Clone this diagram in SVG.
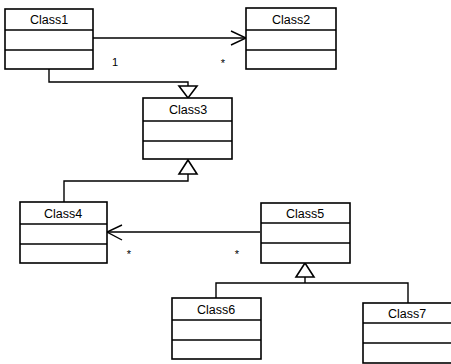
<svg xmlns="http://www.w3.org/2000/svg" width="451" height="364" viewBox="0 0 451 364">
<style>
.box{fill:#fff;stroke:#000;stroke-width:1.6}
.div{stroke:#000;stroke-width:1.4}
.t{font-family:"Liberation Sans",Arial,sans-serif;font-size:12.5px;fill:#000;text-anchor:middle}
.m{font-family:"Liberation Sans",Arial,sans-serif;font-size:11px;fill:#000;text-anchor:middle}
.c{fill:none;stroke:#000;stroke-width:1.4}
.tri{fill:#fff;stroke:#000;stroke-width:1.6}
</style>
<rect width="451" height="364" fill="#fff"/>
<g id="connectors">
<path class="c" d="M93,38 H246"/>
<path class="c" d="M231,31 L246,38 L231,45" stroke-width="1.6"/>
<text class="m" x="115" y="66">1</text>
<text class="m" x="223" y="67">*</text>
<path class="c" d="M49,69 V82 H188 V86"/>
<polygon class="tri" points="179,86 197,86 188,98"/>
<path class="c" d="M188,174 V181 H64 V202"/>
<polygon class="tri" points="188,160 179,174 197,174"/>
<path class="c" d="M260,232 H107"/>
<path class="c" d="M122,225 L107,232 L122,240" stroke-width="1.6"/>
<text class="m" x="129" y="258">*</text>
<text class="m" x="237" y="258">*</text>
<polygon class="tri" points="305,263 296,277 314,277"/>
<path class="c" d="M305,277 V283 M216,298 V283 H408 V303"/>
</g>
<g id="Class1">
<rect class="box" x="5" y="9" width="88" height="60"/>
<line class="div" x1="5" y1="30" x2="93" y2="30"/>
<line class="div" x1="5" y1="50" x2="93" y2="50"/>
<text class="t" x="49" y="24">Class1</text>
</g>
<g id="Class2">
<rect class="box" x="246" y="8" width="90" height="61"/>
<line class="div" x1="246" y1="30" x2="336" y2="30"/>
<line class="div" x1="246" y1="50" x2="336" y2="50"/>
<text class="t" x="291" y="24">Class2</text>
</g>
<g id="Class3">
<rect class="box" x="143" y="98" width="89" height="61"/>
<line class="div" x1="143" y1="121" x2="232" y2="121"/>
<line class="div" x1="143" y1="141" x2="232" y2="141"/>
<text class="t" x="188" y="114">Class3</text>
</g>
<g id="Class4">
<rect class="box" x="20" y="202" width="87" height="61"/>
<line class="div" x1="20" y1="224" x2="107" y2="224"/>
<line class="div" x1="20" y1="244" x2="107" y2="244"/>
<text class="t" x="63" y="218">Class4</text>
</g>
<g id="Class5">
<rect class="box" x="261" y="203" width="89" height="60"/>
<line class="div" x1="261" y1="223" x2="350" y2="223"/>
<line class="div" x1="261" y1="243" x2="350" y2="243"/>
<text class="t" x="305" y="218">Class5</text>
</g>
<g id="Class6">
<rect class="box" x="172" y="298" width="89" height="61"/>
<line class="div" x1="172" y1="320" x2="261" y2="320"/>
<line class="div" x1="172" y1="340" x2="261" y2="340"/>
<text class="t" x="216" y="314">Class6</text>
</g>
<g id="Class7">
<rect class="box" x="363" y="303" width="90" height="60"/>
<line class="div" x1="363" y1="323" x2="453" y2="323"/>
<line class="div" x1="363" y1="343" x2="453" y2="343"/>
<text class="t" x="407" y="318">Class7</text>
</g>
</svg>
